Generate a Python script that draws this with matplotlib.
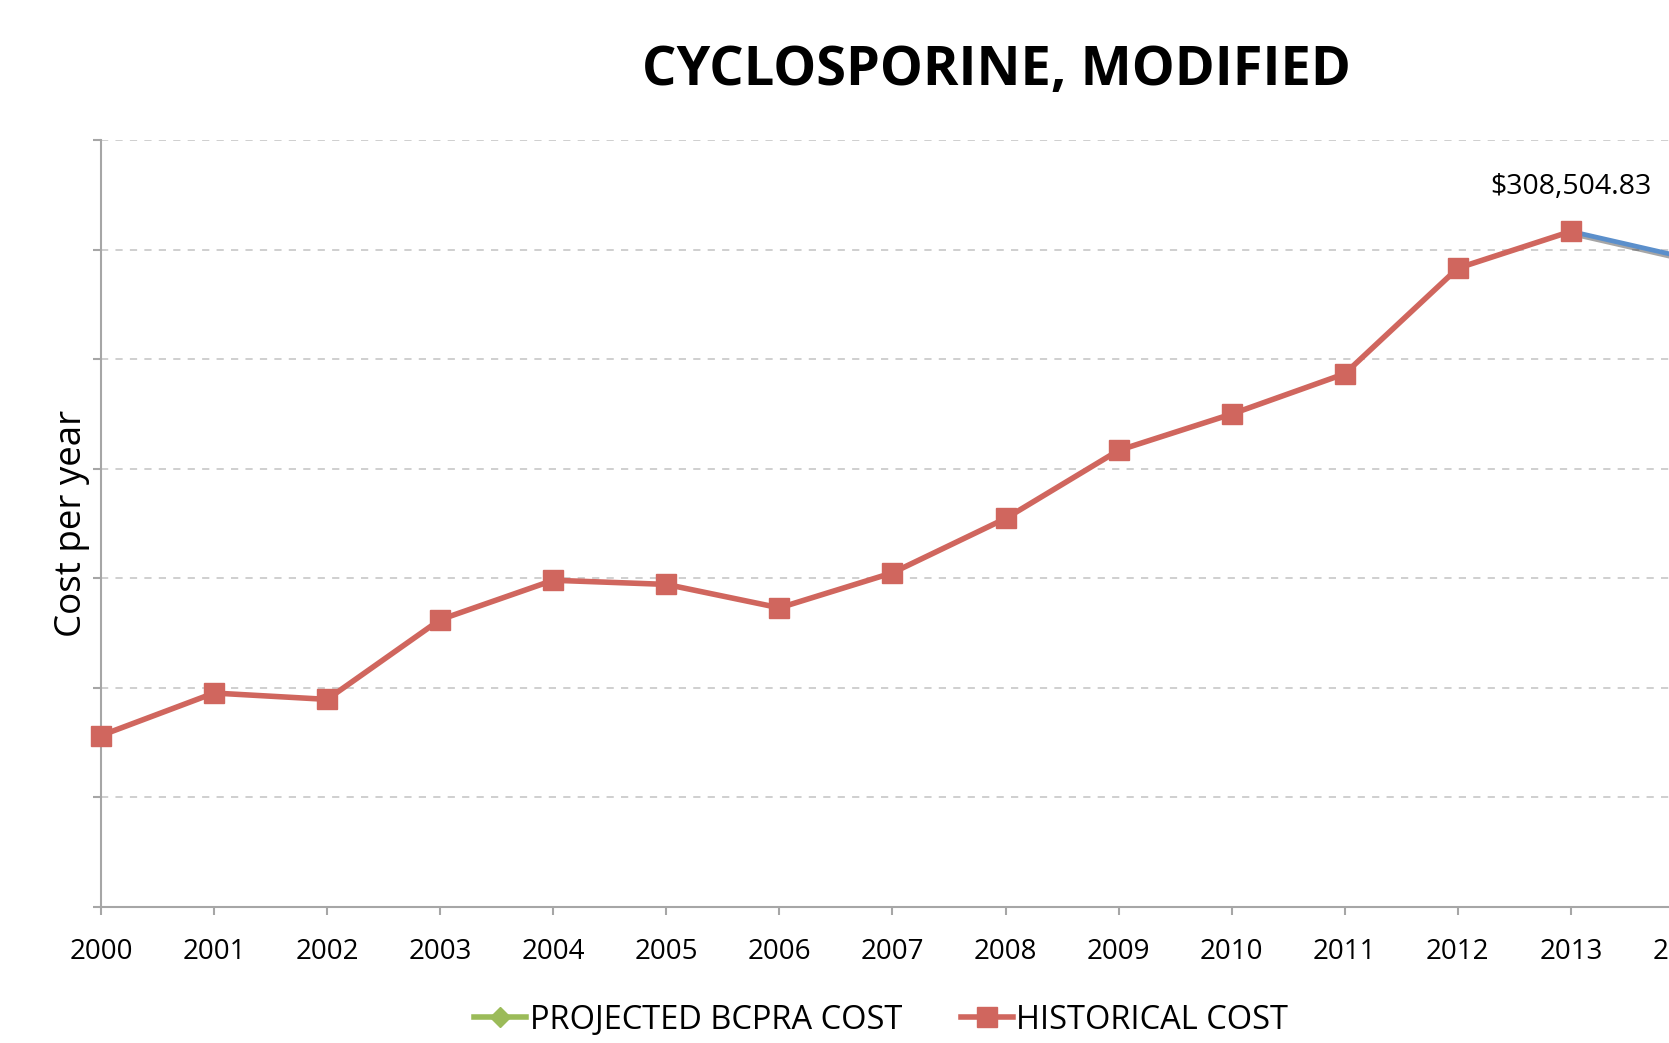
import numpy as np
import matplotlib.pyplot as plt
import matplotlib.patheffects as pe

plt.rcParams['font.family'] = ['Open Sans', 'DejaVu Sans']

# historical cost per year
years = [2000, 2001, 2002, 2003, 2004, 2005, 2006, 2007, 2008, 2009, 2010, 2011, 2012, 2013]
historical = [78300, 97700, 94800, 131200, 149200, 147300, 136600, 152600,
              177400, 208500, 225100, 243500, 291700, 308504.83]
# projected segment (only its start is visible)
proj_years = [2013, 2014]
projected = [308504.83, 296700]

red = '#D0665E'
blue = '#5B8FCB'
green = '#9BBB59'
grey = '#A6A6A6'

fig = plt.figure(figsize=(16.69, 10.43), dpi=100)
ax = fig.add_axes([0.0605, 0.1304, 1.084, 0.7349])

ax.plot(proj_years, projected, color=blue, lw=3.4, zorder=3,
        path_effects=[pe.SimpleLineShadow(offset=(1.5, -2), alpha=0.35), pe.Normal()])
ax.plot(years, historical, color=red, lw=4, marker='s', markersize=14,
        zorder=4, clip_on=False)

ax.annotate('$%s' % format(historical[-1], ',.2f'), (years[-1], historical[-1]),
            xytext=(0, 22), textcoords='offset points', ha='center', va='bottom',
            fontsize=20.5)

ax.set_xlim(2000, 2016)
ax.set_ylim(0, 350000)
ax.set_xticks(range(2000, 2017))
ax.set_yticks(np.arange(0, 350001, 50000))
ax.set_yticklabels([])
ax.tick_params(axis='x', labelsize=20, length=6, width=1.5, color=grey, pad=16, direction='out')
ax.tick_params(axis='y', length=6, width=1.5, color=grey, direction='out')
ax.grid(axis='y', color='#CCCCCC', linestyle=(0, (4, 4)), lw=1.3)
ax.set_axisbelow(True)
for s in ['top', 'right']:
    ax.spines[s].set_visible(False)
for s in ['left', 'bottom']:
    ax.spines[s].set_color(grey)
    ax.spines[s].set_linewidth(1.5)

ax.set_ylabel('Cost per year', fontsize=26.5)
ax.yaxis.set_label_coords(-0.006, 0.5)
fig.text(0.597, 0.932, 'CYCLOSPORINE, MODIFIED', ha='center', va='center',
         fontsize=39, fontweight='bold')

h1, = ax.plot([], [], color=green, lw=4, marker='D', markersize=10)
h2, = ax.plot([], [], color=red, lw=4, marker='s', markersize=14)
fig.legend([h1, h2], ['PROJECTED BCPRA COST', 'HISTORICAL COST'], loc='center',
           bbox_to_anchor=(0.528, 0.022), ncol=2, frameon=False, fontsize=23.5,
           handlelength=1.6, handletextpad=0.1, columnspacing=1.8)

fig.savefig('out.png', dpi=100)
